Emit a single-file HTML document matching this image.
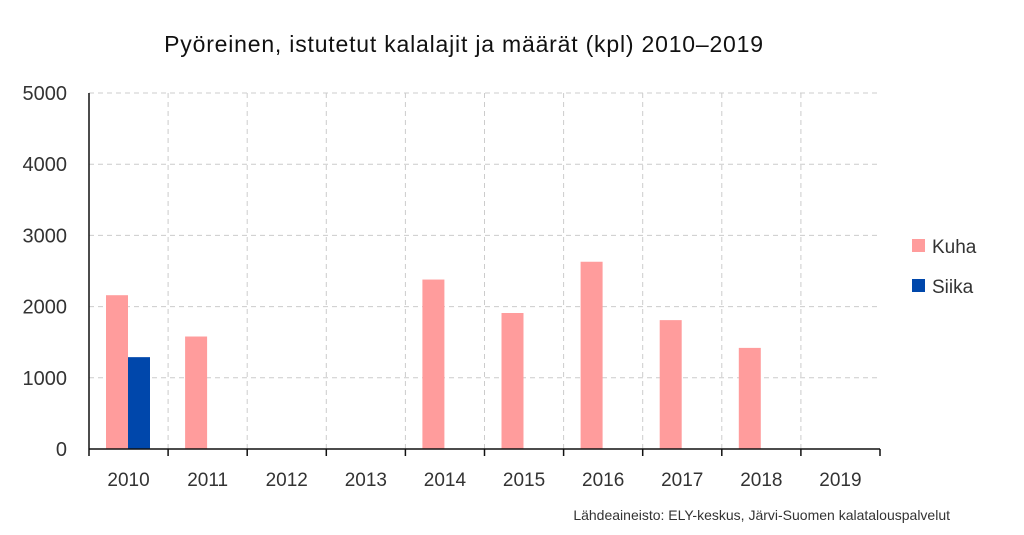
<!DOCTYPE html>
<html><head><meta charset="utf-8"><style>
body{margin:0;background:#fff;width:1024px;height:530px;overflow:hidden;font-family:"Liberation Sans",sans-serif;}
</style></head><body>
<svg width="1024" height="530">
<text x="464" y="52" text-anchor="middle" font-size="23" letter-spacing="0.8" fill="#111">Pyöreinen, istutetut kalalajit ja määrät (kpl) 2010–2019</text>
<g id="grid"></g><g id="bars"></g><g id="axes"></g>
<g>
<rect x="912" y="239" width="13" height="13" fill="#ff9c9c"/>
<text x="932" y="253" font-size="19" fill="#333">Kuha</text>
<rect x="912" y="279" width="13" height="13" fill="#0047ab"/>
<text x="932" y="293" font-size="19" fill="#333">Siika</text>
</g>
<text x="950" y="520" text-anchor="end" font-size="14" fill="#333">Lähdeaineisto: ELY-keskus, Järvi-Suomen kalatalouspalvelut</text>
</svg>
<script>
const categories=["2010","2011","2012","2013","2014","2015","2016","2017","2018","2019"];
const kuha=[2160,1580,0,0,2380,1910,2630,1810,1420,0];
const siika=[1290,0,0,0,0,0,0,0,0,0];
const yTicks=[0,1000,2000,3000,4000,5000];
const NS="http://www.w3.org/2000/svg";
const x0=89,x1=880,y0=449,yTop=93,yMax=5000;
const bw=(x1-x0)/categories.length;
const y=v=>y0-(v/yMax)*(y0-yTop);
const xc=i=>x0+i*bw;
function mk(t,a,p){const e=document.createElementNS(NS,t);for(const k in a)e.setAttribute(k,a[k]);p.appendChild(e);return e;}
const grid=document.getElementById('grid'),bars=document.getElementById('bars'),axes=document.getElementById('axes');
yTicks.forEach(t=>{
 if(t>0){const l=mk('line',{x1:x0,x2:x1,y1:y(t),y2:y(t),stroke:'#ccc','stroke-dasharray':'5,4'},grid);
 
 }
 const tx=mk('text',{x:67,y:y(t)+7,'text-anchor':'end','font-size':20,fill:'#333'},axes);tx.textContent=t;
 
 
});
categories.forEach((c,i)=>{
 if(i>0){const l=mk('line',{x1:xc(i),x2:xc(i),y1:yTop,y2:y0,stroke:'#ccc','stroke-dasharray':'5,4'},grid);
 
 }
 const l2=mk('line',{x1:xc(i+1),x2:xc(i+1),y1:y0,y2:y0+7,stroke:'#111','stroke-width':1.5},axes);
 
 
 const tx=mk('text',{x:xc(i)+bw/2,y:486,'text-anchor':'middle','font-size':19,fill:'#333'},axes);tx.textContent=c;
 
 
 if(kuha[i]>0){const r=mk('rect',{x:xc(i)+17,y:y(kuha[i]),width:22,height:y0-y(kuha[i]),fill:'#ff9c9c'},bars);
 
 }
 if(siika[i]>0){const r=mk('rect',{x:xc(i)+39,y:y(siika[i]),width:22,height:y0-y(siika[i]),fill:'#0047ab'},bars);
 
 }
});
const ax=mk('line',{x1:x0,x2:x0,y1:yTop,y2:y0+7,stroke:'#111','stroke-width':1.5},axes);


const bx=mk('line',{x1:x0,x2:x1,y1:y0,y2:y0,stroke:'#111','stroke-width':1.5},axes);


</script>
</body></html>
